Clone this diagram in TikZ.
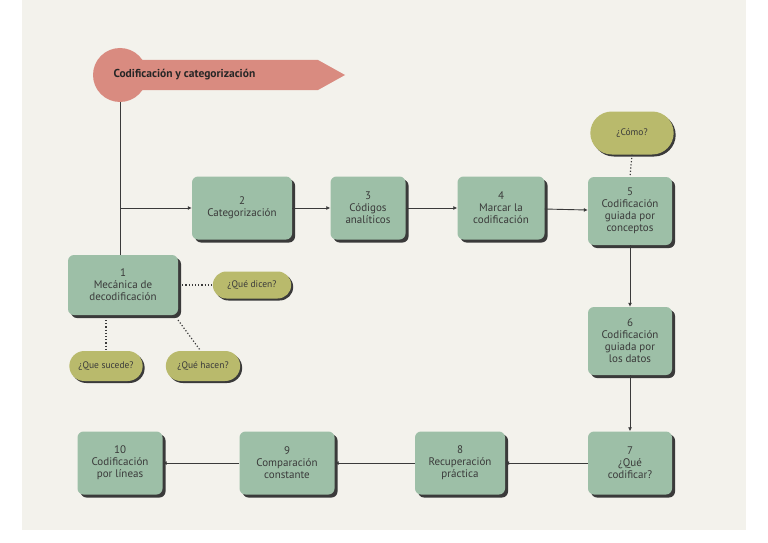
\documentclass[tikz,border=0pt]{standalone}
\usepackage{fontspec}
\setmainfont{PT Sans}
\usetikzlibrary{arrows.meta,shapes.misc}
\definecolor{bg}{HTML}{F3F2EC}
\definecolor{boxg}{HTML}{9DBFA7}
\definecolor{pill}{HTML}{B9BA6C}
\definecolor{titc}{HTML}{D98B80}
\definecolor{ln}{HTML}{3A3A3A}
\tikzset{
  stepbox/.style={draw=none,fill=boxg,rounded corners=6pt,align=center,font=\fontsize{11}{12}\selectfont,text=ln,
    drop shadow={shadow xshift=3pt,shadow yshift=-3pt,fill=ln,opacity=1}},
  pillbox/.style={fill=pill,rounded rectangle,align=center,font=\fontsize{9.5}{11}\selectfont,text=ln,
    drop shadow={shadow xshift=2pt,shadow yshift=-2pt,fill=ln,opacity=1}},
  conn/.style={draw=ln,line width=0.9pt,-{Latex[length=4pt,width=4pt]}},
  dots/.style={draw=ln,line width=1.2pt,dotted}
}
\usetikzlibrary{shadows}
\begin{document}
\begin{tikzpicture}[x=1pt,y=-1pt]
\fill[white] (0,0) rectangle (768,543);
\fill[bg] (22,0) rectangle (746,530);
\useasboundingbox (0,0) rectangle (768,543);
% title
\fill[titc] (120,60) -- (318,60) -- (345,75) -- (318,90) -- (120,90) -- cycle;
\fill[titc] (120,75) circle (27);
\node[font=\bfseries\fontsize{11.5}{13}\selectfont,text=black!85,anchor=west] (title) at (110,75) {Codificación y categorización};
\coordinate (tc) at (120,102);
\node[stepbox,minimum width=110pt,minimum height=60pt] (b1) at (123,285) {1\\Mecánica de\\decodificación};
\node[stepbox,minimum width=100pt,minimum height=63pt] (b2) at (242,208) {2\\Categorización};
\node[stepbox,minimum width=75pt,minimum height=63pt] (b3) at (368,208) {3\\Códigos\\analíticos};
\node[stepbox,minimum width=87pt,minimum height=63pt] (b4) at (501,208) {4\\Marcar la\\codificación};
\node[stepbox,minimum width=84pt,minimum height=68pt] (b5) at (630,211) {5\\Codificación\\guiada por\\conceptos};
\node[stepbox,minimum width=84pt,minimum height=68pt] (b6) at (630,341) {6\\Codificación\\guiada por\\los datos};
\node[stepbox,minimum width=84pt,minimum height=63pt] (b7) at (630,463) {7\\¿Qué\\codificar?};
\node[stepbox,minimum width=90pt,minimum height=63pt] (b8) at (460,463) {8\\Recuperación\\práctica};
\node[stepbox,minimum width=95pt,minimum height=63pt] (b9) at (287,463) {9\\Comparación\\constante};
\node[stepbox,minimum width=85pt,minimum height=63pt] (b10) at (120,463) {10\\Codificación\\por líneas};
\node[pillbox,minimum width=90pt,minimum height=43pt] (como) at (632,133) {¿Cómo?};
\node[pillbox,minimum width=85pt,minimum height=27pt] (dicen) at (252,285) {¿Qué dicen?};
\node[pillbox,minimum width=80pt,minimum height=30pt] (sucede) at (106,366) {¿Que sucede?};
\node[pillbox,minimum width=81pt,minimum height=30pt] (hacen) at (203,366) {¿Qué hacen?};
% connectors
\draw[draw=ln,line width=0.9pt] (tc) -- (tc |- b1.north);
\coordinate (br) at (120,208);
\draw[conn] (br) -- (b2.west);
\draw[conn] (b2) -- (b3);
\draw[conn] (b3) -- (b4);
\draw[conn] (b4) -- (b5);
\draw[conn] (b5) -- (b6);
\draw[conn] (b6) -- (b7);
\draw[conn] (b7) -- (b8);
\draw[conn] (b8) -- (b9);
\draw[conn] (b9) -- (b10);
\draw[dots] (como.south) -- (b5.north);
\draw[dots] (b1.east) ++(4,0) -- (dicen.west);
\draw[dots] (106,320) -- (sucede.north);
\draw[dots] (178,320) -- (200,350);
\end{tikzpicture}
\end{document}
